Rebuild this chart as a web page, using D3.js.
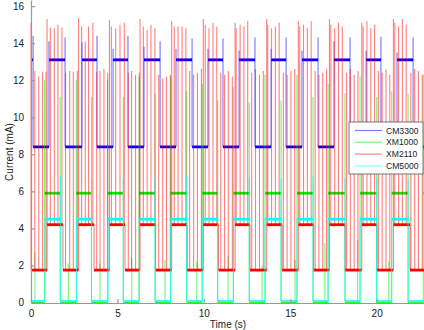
<!DOCTYPE html>
<html>
<head>
<meta charset="utf-8">
<script src="https://cdn.jsdelivr.net/npm/d3@7"></script>
<style>
  body { margin: 0; background: #fff; }
  svg { display: block; font-family: "Liberation Sans", Arial, sans-serif; }
  .tick text { font-size: 10px; fill: #222; }
</style>
</head>
<body>
<div id="chart"></div>
<script>
// axis ticks
const xTicks = [0, 5, 10, 15, 20];
const yTicks = [0, 2, 4, 6, 8, 10, 12, 14, 16];
const seriesNames = ['CM3300', 'XM1000', 'XM2110', 'CM5000'];

// CM3300 (blue): low / high current and switching times (s)
const blueLevels = [8.4, 13.1];
const blueRise = [1.04, 2.95, 4.75, 6.54, 8.39, 10.24, 12.04, 13.89, 15.68, 17.53, 19.39, 21.18];
const blueFall = [0.12, 1.97, 3.82, 5.61, 7.47, 9.32, 11.11, 12.96, 14.76, 16.61, 18.46, 20.25, 22.11];
const blueRisePeak = [14.1, 14.05, 13.7, 13.8, 13.7, 13.7, 13.6, 13.7, 13.6, 14.1, 13.6, 13.5];
const blueFallPeak = [14.4, 14.3, 14.4, 14.4, 14.1, 14.25, 14.25, 14.3, 14.3, 14.3, 14.3, 14.35, 14.3];

// XM1000 (green)
const greenLevels = [0, 5.9];
const greenRise = [0.78, 2.62, 4.43, 6.25, 8.08, 9.91, 11.71, 13.54, 15.39, 17.19, 19.04, 20.87, 22.70];
const greenFall = [1.69, 3.50, 5.34, 7.18, 9.01, 10.80, 12.63, 14.47, 16.32, 18.17, 20.00, 21.82];
const greenRisePeak = [12.0, 12.0, 12.0, 12.2, 12.2, 11.8, 11.6, 12.3, 12.3, 11.8, 12.2, 11.4, 12.3];
const greenFallPeak = [11.1, 11.1, 11.1, 11.3, 11.4, 10.9, 10.8, 10.9, 11.1, 11.3, 11.1, 11.3];
const greenSpikeT = [0.23, 2.16, 3.99, 5.83, 7.75, 9.59, 11.40, 13.37, 15.28, 17.00, 18.90, 20.70];
const greenSpikeV = [2.7, 2.1, 2.1, 2.4, 2.3, 2.2, 2.5, 2.0, 2.3, 3.2, 3.4, 2.2];

// XM2110 (red)
const redLevels = [1.75, 4.2];
const redRise = [0.93, 2.75, 4.54, 6.31, 8.14, 9.97, 11.81, 13.64, 15.47, 17.27, 19.14, 20.97];
const redFall = [1.85, 3.65, 5.44, 7.21, 9.03, 10.85, 12.67, 14.53, 16.35, 18.17, 20.02, 21.93];
const redRisePeak = [15.3, 15.35, 15.25, 15.3, 15.2, 15.3, 15.1, 15.3, 15.2, 15.3, 15.1, 15.3];
const redSpikeT = [0.00, 0.22, 0.45, 0.67, 0.87, 1.12, 1.35, 1.56, 1.79, 2.00, 2.24, 2.45, 2.68,
  2.93, 3.14, 3.33, 3.58, 3.80, 3.99, 4.22, 4.44, 4.65, 4.90, 5.15, 5.40, 5.63, 5.82, 6.05, 6.27,
  6.50, 6.72, 6.94, 7.17, 7.39, 7.62, 7.84, 8.06, 8.29, 8.51, 8.74, 8.96, 9.18, 9.41, 9.63, 9.86,
  10.08, 10.30, 10.53, 10.75, 10.98, 11.20, 11.42, 11.65, 11.87, 12.10, 12.32, 12.54, 12.77, 12.99,
  13.22, 13.44, 13.70, 13.92, 14.14, 14.36, 14.60, 14.82, 15.04, 15.26, 15.55, 15.77, 15.99, 16.21,
  16.44, 16.66, 16.88, 17.10, 17.35, 17.57, 17.79, 18.01, 18.26, 18.48, 18.70, 18.92, 19.22, 19.44,
  19.66, 19.88, 20.10, 20.32, 20.54, 20.76, 21.05, 21.27, 21.49, 21.71, 21.98, 22.20, 22.42, 22.64];
const redSpikeV = [15.1, 12.5, 12.2, 12.45, 12.45, 14.85, 14.8, 15.0, 14.85, 12.4, 12.5, 12.45, 12.5,
  14.9, 14.1, 14.9, 15.1, 12.45, 12.5, 12.6, 12.4, 14.9, 14.8, 15.0, 15.1, 12.4, 12.5, 12.3, 12.4,
  14.9, 14.7, 15.0, 14.8, 12.3, 12.1, 12.2, 12.3, 14.9, 14.9, 14.9, 14.8, 12.5, 12.3, 12.4, 12.6,
  15.0, 14.8, 15.1, 14.9, 12.4, 12.3, 12.5, 12.2, 14.8, 15.0, 14.9, 15.2, 12.4, 12.6,
  12.3, 12.5, 15.0, 14.8, 14.9, 15.1, 12.4, 12.3, 12.5, 12.6, 14.9, 15.0, 14.8, 15.2,
  12.5, 12.3, 12.4, 12.6, 15.0, 14.8, 15.1, 14.9, 12.4, 12.6, 12.3, 12.5, 14.9, 15.2,
  14.8, 15.0, 12.5, 12.4, 12.6, 12.3, 15.1, 14.9, 15.3, 15.0, 12.4, 12.6, 12.5, 12.3];

// CM5000 (cyan)
const cyanLevels = [0.08, 4.5];
const cyanRise = [0.81, 2.64, 4.46, 6.27, 8.08, 9.91, 11.71, 13.54, 15.39, 17.19, 19.04, 20.87];
const cyanFall = [1.70, 3.50, 5.34, 7.18, 9.01, 10.80, 12.63, 14.47, 16.32, 18.17, 20.00, 21.82];
const cyanFallPeak = [6.8, 6.7, 6.7, 6.7, 6.8, 6.6, 6.7, 6.7, 6.8, 6.7, 6.7, 6.6];

const width = 424, height = 330;
const xMax = 22.74;
const colors = ['#0000ff', '#00ee00', '#ff0000', '#00ffff'];

const svg = d3.select('#chart').append('svg')
  .attr('width', width)
  .attr('height', height);

const x = d3.scaleLinear().domain([0, xMax]).range([31, 424]);
const y = d3.scaleLinear().domain([0, 16.33]).range([302.5, 0]);

// turn rise/fall times into flat segments [t0, t1, level]
function buildSteps(levels, rise, fall, startHigh) {
  const events = rise.map(t => ({ t, up: true }))
    .concat(fall.map(t => ({ t, up: false })))
    .sort((a, b) => a.t - b.t);
  let level = startHigh ? levels[1] : levels[0];
  let t0 = 0;
  const segs = [];
  events.forEach(e => {
    segs.push({ t0, t1: e.t, v: level });
    level = e.up ? levels[1] : levels[0];
    t0 = e.t;
  });
  segs.push({ t0, t1: xMax, v: level });
  return segs;
}

function levelAt(segs, t) {
  const s = segs.find(d => t >= d.t0 && t < d.t1);
  return s ? s.v : segs[segs.length - 1].v;
}

// vertical strokes: edges (with overshoot) and spikes
function edgeLines(levels, times, peaks) {
  return times.map((t, i) => {
    const p = peaks ? peaks[i] : levels[1];
    return { t, lo: Math.min(levels[0], levels[1], p), hi: Math.max(levels[0], levels[1], p) };
  });
}

function spikeLines(segs, times, peaks) {
  return times.map((t, i) => {
    const base = levelAt(segs, t);
    return { t, lo: Math.min(base, peaks[i]), hi: Math.max(base, peaks[i]) };
  });
}

const blueSegs = buildSteps(blueLevels, blueRise, blueFall, true);
const greenSegs = buildSteps(greenLevels, greenRise, greenFall, false);
const redSegs = buildSteps(redLevels, redRise, redFall, false);
const cyanSegs = buildSteps(cyanLevels, cyanRise, cyanFall, false);

const series = [
  {
    segs: blueSegs, color: colors[0], levels: blueLevels, op: 0.55,
    lines: edgeLines(blueLevels, blueRise, blueRisePeak).concat(edgeLines(blueLevels, blueFall, blueFallPeak)),
    thick: [2.8, 2.8]
  },
  {
    segs: greenSegs, color: colors[1], levels: greenLevels, op: 0.55,
    lines: edgeLines(greenLevels, greenRise, greenRisePeak).concat(edgeLines(greenLevels, greenFall, greenFallPeak))
      .concat(spikeLines(greenSegs, greenSpikeT, greenSpikeV)),
    thick: [0.8, 2.8]
  },
  {
    segs: redSegs, color: colors[2], levels: redLevels, op: 0.5,
    lines: edgeLines(redLevels, redRise, redRisePeak).concat(edgeLines(redLevels, redFall, null))
      .concat(spikeLines(redSegs, redSpikeT, redSpikeV)),
    thick: [2.8, 2.8]
  },
  {
    segs: cyanSegs, color: colors[3], levels: cyanLevels, op: 0.7,
    lines: edgeLines(cyanLevels, cyanRise, null).concat(edgeLines(cyanLevels, cyanFall, cyanFallPeak)),
    thick: [1.6, 2.8]
  }
];

const plot = svg.append('g');

series.forEach(s => {
  const g = plot.append('g');
  g.selectAll('line.v')
    .data(s.lines)
    .enter().append('line')
    .attr('class', 'v')
    .attr('x1', d => x(d.t)).attr('x2', d => x(d.t))
    .attr('y1', d => y(d.lo)).attr('y2', d => y(d.hi))
    .attr('stroke', s.color)
    .attr('stroke-width', 1.1)
    .attr('stroke-opacity', s.op);
  g.selectAll('line.h')
    .data(s.segs)
    .enter().append('line')
    .attr('class', 'h')
    .attr('x1', d => x(d.t0)).attr('x2', d => x(d.t1))
    .attr('y1', d => y(d.v)).attr('y2', d => y(d.v))
    .attr('stroke', s.color)
    .attr('stroke-width', d => d.v === s.levels[0] ? s.thick[0] : s.thick[1]);
});

// axes (ticks inside, like the original)
svg.append('g')
  .attr('class', 'x axis')
  .attr('transform', 'translate(0,303)')
  .call(d3.axisBottom(x).tickValues(xTicks).tickSizeInner(-4).tickSizeOuter(0).tickPadding(7));
svg.append('g')
  .attr('class', 'y axis')
  .attr('transform', 'translate(31,0)')
  .call(d3.axisLeft(y).tickValues(yTicks).tickSizeInner(-4).tickSizeOuter(0).tickPadding(7));

svg.selectAll('.axis path, .axis line').attr('stroke', '#999').attr('stroke-width', 1.2);

svg.append('text')
  .attr('x', 228).attr('y', 327.5)
  .attr('text-anchor', 'middle')
  .style('font-size', '10px')
  .attr('fill', '#222')
  .text('Time (s)');

svg.append('text')
  .attr('transform', 'translate(13,152) rotate(-90)')
  .attr('text-anchor', 'middle')
  .style('font-size', '10px')
  .attr('fill', '#222')
  .text('Current (mA)');

// legend
const legend = svg.append('g').attr('transform', 'translate(349,122)');
legend.append('rect')
  .attr('width', 74).attr('height', 52)
  .attr('fill', '#fff')
  .attr('stroke', '#555')
  .attr('stroke-width', 0.8);
seriesNames.forEach((name, i) => {
  const row = legend.append('g').attr('transform', `translate(0,${8.5 + i * 11.8})`);
  row.append('line')
    .attr('x1', 6).attr('x2', 33)
    .attr('stroke', colors[i])
    .attr('stroke-opacity', 0.5)
    .attr('stroke-width', 1.2);
  row.append('text')
    .attr('x', 37).attr('dy', '0.35em')
    .style('font-size', '8.6px')
    .attr('fill', '#222')
    .text(name);
});
</script>
</body>
</html>
